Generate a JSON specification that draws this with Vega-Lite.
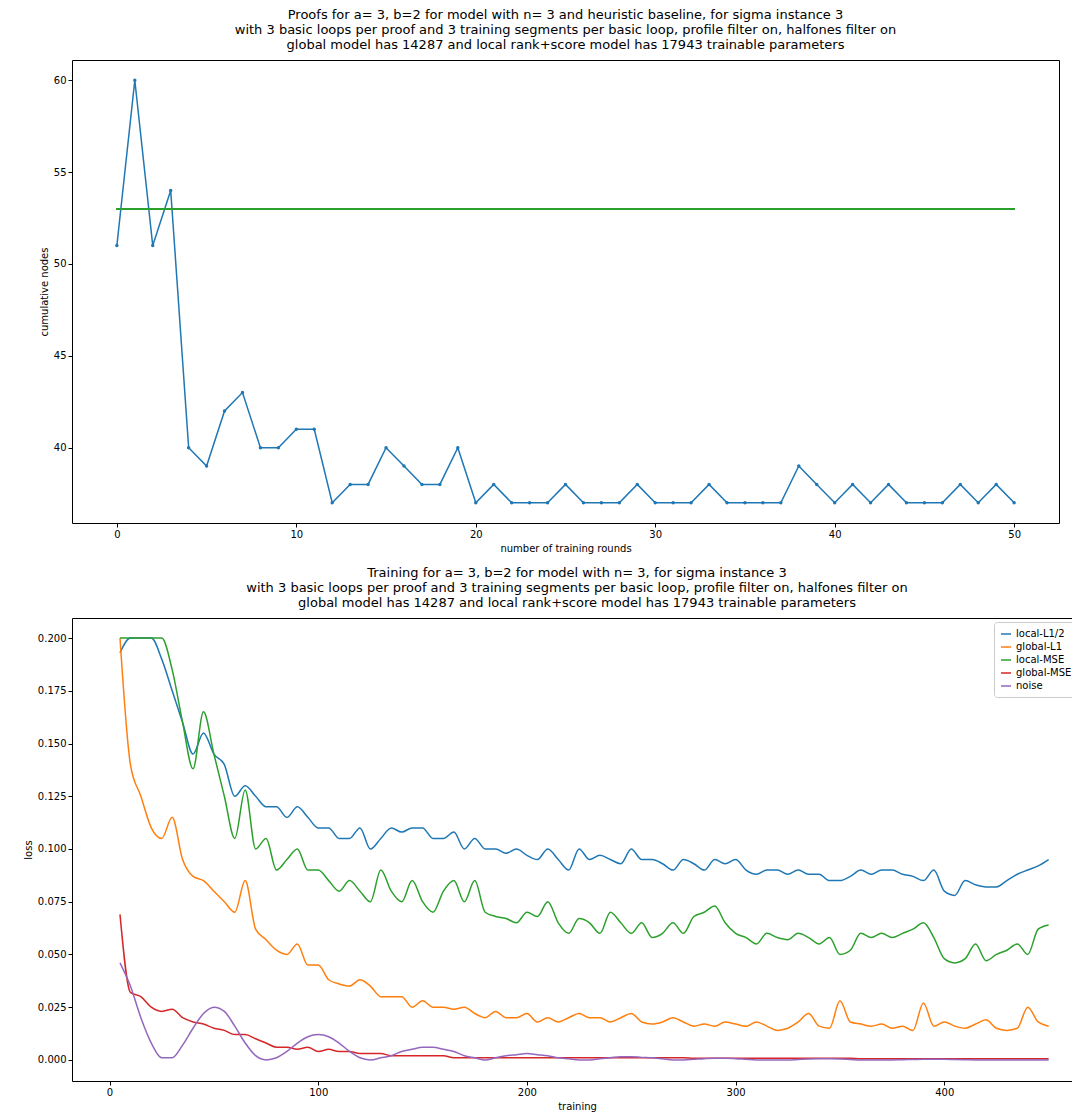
{
  "$schema": "https://vega.github.io/schema/vega-lite/v6.json",
  "padding": {"left": 22, "top": 8, "right": 0, "bottom": 0},
  "spacing": 12,
  "resolve": {"legend": {"color": "independent"}},
  "config": {
    "font": "DejaVu Sans",
    "view": {"stroke": "black", "strokeWidth": 1},
    "axis": {"grid": false, "domain": false, "tickColor": "black", "labelColor": "black", "labelFontSize": 10, "titleFontSize": 10, "titleFontWeight": "normal", "titleColor": "black", "tickSize": 4},
    "title": {"fontSize": 13, "fontWeight": "normal", "color": "black", "offset": 8}
  },
  "vconcat": [
    {
      "title": {"text": ["Proofs for a= 3, b=2 for model with n= 3 and heuristic baseline, for sigma instance 3", "with 3 basic loops per proof and 3 training segments per basic loop, profile filter on, halfones filter on", "global model has 14287 and local rank+score model has 17943 trainable parameters"]},
      "width": 987,
      "height": 463,
      "data": {"values": [
        {"r":0,"n":51},{"r":1,"n":60},{"r":2,"n":51},{"r":3,"n":54},{"r":4,"n":40},{"r":5,"n":39},{"r":6,"n":42},{"r":7,"n":43},{"r":8,"n":40},{"r":9,"n":40},
        {"r":10,"n":41},{"r":11,"n":41},{"r":12,"n":37},{"r":13,"n":38},{"r":14,"n":38},{"r":15,"n":40},{"r":16,"n":39},{"r":17,"n":38},{"r":18,"n":38},{"r":19,"n":40},
        {"r":20,"n":37},{"r":21,"n":38},{"r":22,"n":37},{"r":23,"n":37},{"r":24,"n":37},{"r":25,"n":38},{"r":26,"n":37},{"r":27,"n":37},{"r":28,"n":37},{"r":29,"n":38},
        {"r":30,"n":37},{"r":31,"n":37},{"r":32,"n":37},{"r":33,"n":38},{"r":34,"n":37},{"r":35,"n":37},{"r":36,"n":37},{"r":37,"n":37},{"r":38,"n":39},{"r":39,"n":38},
        {"r":40,"n":37},{"r":41,"n":38},{"r":42,"n":37},{"r":43,"n":38},{"r":44,"n":37},{"r":45,"n":37},{"r":46,"n":37},{"r":47,"n":38},{"r":48,"n":37},{"r":49,"n":38},{"r":50,"n":37}
      ]},
      "layer": [
        {
          "mark": {"type": "line", "color": "#1f77b4", "strokeWidth": 1.5, "point": {"filled": true, "size": 12, "color": "#1f77b4"}},
          "encoding": {
            "x": {"field": "r", "type": "quantitative", "scale": {"domain": [-2.5, 52.5], "nice": false}, "axis": {"values": [0,10,20,30,40,50], "title": "number of training rounds"}},
            "y": {"field": "n", "type": "quantitative", "scale": {"domain": [35.9, 61.1], "nice": false, "zero": false}, "axis": {"values": [40,45,50,55,60], "title": "cumulative nodes"}}
          }
        },
        {
          "mark": {"type": "rule", "color": "#2ca02c", "strokeWidth": 1.5},
          "encoding": {"x": {"datum": 0}, "x2": {"datum": 50}, "y": {"datum": 53}}
        }
      ]
    },
    {
      "title": {"text": ["Training for a= 3, b=2 for model with n= 3, for sigma instance 3", "with 3 basic loops per proof and 3 training segments per basic loop, profile filter on, halfones filter on", "global model has 14287 and local rank+score model has 17943 trainable parameters"]},
      "width": 1010,
      "height": 463,
      "data": {"values": [
        {"t":5,"a":0.193,"b":0.2,"c":0.2,"d":0.069,"e":0.046},
        {"t":10,"a":0.2,"b":0.14,"c":0.2,"d":0.032,"e":0.035},
        {"t":15,"a":0.2,"b":0.125,"c":0.2,"d":0.03,"e":0.02},
        {"t":20,"a":0.2,"b":0.11,"c":0.2,"d":0.025,"e":0.008},
        {"t":25,"a":0.19,"b":0.105,"c":0.2,"d":0.023,"e":0.001},
        {"t":30,"a":0.175,"b":0.115,"c":0.185,"d":0.024,"e":0.001},
        {"t":35,"a":0.16,"b":0.095,"c":0.16,"d":0.02,"e":0.007},
        {"t":40,"a":0.145,"b":0.087,"c":0.138,"d":0.018,"e":0.015},
        {"t":45,"a":0.155,"b":0.085,"c":0.165,"d":0.017,"e":0.022},
        {"t":50,"a":0.145,"b":0.08,"c":0.145,"d":0.015,"e":0.025},
        {"t":55,"a":0.14,"b":0.075,"c":0.125,"d":0.014,"e":0.023},
        {"t":60,"a":0.125,"b":0.07,"c":0.105,"d":0.012,"e":0.016},
        {"t":65,"a":0.13,"b":0.085,"c":0.128,"d":0.012,"e":0.008},
        {"t":70,"a":0.125,"b":0.062,"c":0.1,"d":0.01,"e":0.002},
        {"t":75,"a":0.12,"b":0.057,"c":0.105,"d":0.008,"e":0.0},
        {"t":80,"a":0.12,"b":0.052,"c":0.09,"d":0.006,"e":0.001},
        {"t":85,"a":0.115,"b":0.05,"c":0.095,"d":0.006,"e":0.004},
        {"t":90,"a":0.12,"b":0.055,"c":0.1,"d":0.005,"e":0.008},
        {"t":95,"a":0.115,"b":0.045,"c":0.09,"d":0.006,"e":0.011},
        {"t":100,"a":0.11,"b":0.045,"c":0.09,"d":0.004,"e":0.012},
        {"t":105,"a":0.11,"b":0.038,"c":0.085,"d":0.005,"e":0.011},
        {"t":110,"a":0.105,"b":0.036,"c":0.08,"d":0.004,"e":0.008},
        {"t":115,"a":0.105,"b":0.035,"c":0.085,"d":0.004,"e":0.004},
        {"t":120,"a":0.11,"b":0.038,"c":0.08,"d":0.003,"e":0.001},
        {"t":125,"a":0.1,"b":0.035,"c":0.075,"d":0.003,"e":0.0},
        {"t":130,"a":0.105,"b":0.03,"c":0.09,"d":0.003,"e":0.001},
        {"t":135,"a":0.11,"b":0.03,"c":0.08,"d":0.002,"e":0.002},
        {"t":140,"a":0.108,"b":0.03,"c":0.075,"d":0.002,"e":0.004},
        {"t":145,"a":0.11,"b":0.025,"c":0.085,"d":0.002,"e":0.005},
        {"t":150,"a":0.11,"b":0.028,"c":0.075,"d":0.002,"e":0.006},
        {"t":155,"a":0.105,"b":0.025,"c":0.07,"d":0.002,"e":0.006},
        {"t":160,"a":0.105,"b":0.025,"c":0.08,"d":0.002,"e":0.005},
        {"t":165,"a":0.108,"b":0.024,"c":0.085,"d":0.001,"e":0.004},
        {"t":170,"a":0.1,"b":0.025,"c":0.075,"d":0.001,"e":0.002},
        {"t":175,"a":0.105,"b":0.022,"c":0.085,"d":0.001,"e":0.001},
        {"t":180,"a":0.1,"b":0.02,"c":0.07,"d":0.001,"e":0.0},
        {"t":185,"a":0.1,"b":0.023,"c":0.068,"d":0.001,"e":0.001},
        {"t":190,"a":0.098,"b":0.02,"c":0.067,"d":0.001,"e":0.002},
        {"t":195,"a":0.1,"b":0.02,"c":0.065,"d":0.001,"e":0.0025},
        {"t":200,"a":0.097,"b":0.022,"c":0.07,"d":0.001,"e":0.003},
        {"t":205,"a":0.095,"b":0.018,"c":0.068,"d":0.001,"e":0.0025},
        {"t":210,"a":0.1,"b":0.02,"c":0.075,"d":0.001,"e":0.002},
        {"t":215,"a":0.095,"b":0.018,"c":0.065,"d":0.001,"e":0.001},
        {"t":220,"a":0.09,"b":0.02,"c":0.06,"d":0.001,"e":0.0005},
        {"t":225,"a":0.1,"b":0.022,"c":0.067,"d":0.001,"e":0.0},
        {"t":230,"a":0.095,"b":0.02,"c":0.065,"d":0.001,"e":0.0},
        {"t":235,"a":0.097,"b":0.02,"c":0.06,"d":0.001,"e":0.0005},
        {"t":240,"a":0.095,"b":0.018,"c":0.07,"d":0.001,"e":0.001},
        {"t":245,"a":0.093,"b":0.02,"c":0.065,"d":0.001,"e":0.0015},
        {"t":250,"a":0.1,"b":0.022,"c":0.06,"d":0.001,"e":0.0015},
        {"t":255,"a":0.095,"b":0.018,"c":0.065,"d":0.001,"e":0.0012},
        {"t":260,"a":0.095,"b":0.017,"c":0.058,"d":0.001,"e":0.001},
        {"t":265,"a":0.093,"b":0.018,"c":0.06,"d":0.001,"e":0.0005},
        {"t":270,"a":0.09,"b":0.02,"c":0.065,"d":0.001,"e":0.0},
        {"t":275,"a":0.095,"b":0.018,"c":0.06,"d":0.001,"e":0.0},
        {"t":280,"a":0.093,"b":0.016,"c":0.068,"d":0.0008,"e":0.0003},
        {"t":285,"a":0.09,"b":0.017,"c":0.07,"d":0.0008,"e":0.0006},
        {"t":290,"a":0.095,"b":0.016,"c":0.073,"d":0.0008,"e":0.0008},
        {"t":295,"a":0.093,"b":0.018,"c":0.065,"d":0.0008,"e":0.0008},
        {"t":300,"a":0.095,"b":0.017,"c":0.06,"d":0.0008,"e":0.0006},
        {"t":305,"a":0.09,"b":0.016,"c":0.058,"d":0.0008,"e":0.0003},
        {"t":310,"a":0.088,"b":0.018,"c":0.055,"d":0.0008,"e":0.0},
        {"t":315,"a":0.09,"b":0.016,"c":0.06,"d":0.0008,"e":0.0},
        {"t":320,"a":0.09,"b":0.014,"c":0.058,"d":0.0008,"e":0.0},
        {"t":325,"a":0.088,"b":0.015,"c":0.057,"d":0.0008,"e":0.0},
        {"t":330,"a":0.09,"b":0.018,"c":0.06,"d":0.0008,"e":0.0002},
        {"t":335,"a":0.088,"b":0.022,"c":0.058,"d":0.0008,"e":0.0004},
        {"t":340,"a":0.088,"b":0.016,"c":0.055,"d":0.0008,"e":0.0005},
        {"t":345,"a":0.085,"b":0.015,"c":0.058,"d":0.0008,"e":0.0005},
        {"t":350,"a":0.085,"b":0.028,"c":0.05,"d":0.0008,"e":0.0004},
        {"t":355,"a":0.087,"b":0.018,"c":0.052,"d":0.0008,"e":0.0002},
        {"t":360,"a":0.09,"b":0.017,"c":0.06,"d":0.0006,"e":0.0},
        {"t":365,"a":0.088,"b":0.016,"c":0.058,"d":0.0006,"e":0.0},
        {"t":370,"a":0.09,"b":0.017,"c":0.06,"d":0.0006,"e":0.0},
        {"t":375,"a":0.09,"b":0.015,"c":0.058,"d":0.0006,"e":0.0},
        {"t":380,"a":0.088,"b":0.016,"c":0.06,"d":0.0006,"e":0.0001},
        {"t":385,"a":0.087,"b":0.014,"c":0.062,"d":0.0006,"e":0.0002},
        {"t":390,"a":0.085,"b":0.027,"c":0.065,"d":0.0006,"e":0.0003},
        {"t":395,"a":0.09,"b":0.016,"c":0.058,"d":0.0006,"e":0.0003},
        {"t":400,"a":0.08,"b":0.018,"c":0.048,"d":0.0006,"e":0.0003},
        {"t":405,"a":0.078,"b":0.016,"c":0.046,"d":0.0006,"e":0.0002},
        {"t":410,"a":0.085,"b":0.015,"c":0.048,"d":0.0006,"e":0.0001},
        {"t":415,"a":0.083,"b":0.017,"c":0.055,"d":0.0005,"e":0.0},
        {"t":420,"a":0.082,"b":0.019,"c":0.047,"d":0.0005,"e":0.0},
        {"t":425,"a":0.082,"b":0.015,"c":0.05,"d":0.0005,"e":0.0},
        {"t":430,"a":0.085,"b":0.014,"c":0.052,"d":0.0005,"e":0.0},
        {"t":435,"a":0.088,"b":0.015,"c":0.055,"d":0.0005,"e":0.0},
        {"t":440,"a":0.09,"b":0.025,"c":0.05,"d":0.0005,"e":0.0},
        {"t":445,"a":0.092,"b":0.018,"c":0.062,"d":0.0005,"e":0.0},
        {"t":450,"a":0.095,"b":0.016,"c":0.064,"d":0.0005,"e":0.0}
      ]},
      "transform": [
        {"fold": ["a", "b", "c", "d", "e"], "as": ["k", "v"]},
        {"lookup": "k", "from": {"data": {"values": [
          {"k":"a","s":"local-L1/2","o":1},{"k":"b","s":"global-L1","o":2},{"k":"c","s":"local-MSE","o":3},{"k":"d","s":"global-MSE","o":4},{"k":"e","s":"noise","o":5}
        ]}, "key": "k", "fields": ["s", "o"]}}
      ],
      "mark": {"type": "line", "strokeWidth": 1.5, "interpolate": "monotone"},
      "encoding": {
        "x": {"field": "t", "type": "quantitative", "scale": {"domain": [-18, 466], "nice": false}, "axis": {"values": [0,100,200,300,400], "title": "training"}},
        "y": {"field": "v", "type": "quantitative", "scale": {"domain": [-0.01, 0.2095], "nice": false}, "axis": {"values": [0,0.025,0.05,0.075,0.1,0.125,0.15,0.175,0.2], "format": ".3f", "title": "loss"}},
        "color": {"field": "s", "type": "nominal", "sort": ["local-L1/2", "global-L1", "local-MSE", "global-MSE", "noise"],
          "scale": {"domain": ["local-L1/2", "global-L1", "local-MSE", "global-MSE", "noise"], "range": ["#1f77b4", "#ff7f0e", "#2ca02c", "#d62728", "#9467bd"]},
          "legend": {"title": null, "orient": "top-right", "offset": 4, "symbolType": "stroke", "symbolStrokeWidth": 1.5, "labelFontSize": 10, "strokeColor": "#cccccc", "padding": 6, "fillColor": "white", "cornerRadius": 3}},
        "order": {"field": "o"}
      }
    }
  ]
}
